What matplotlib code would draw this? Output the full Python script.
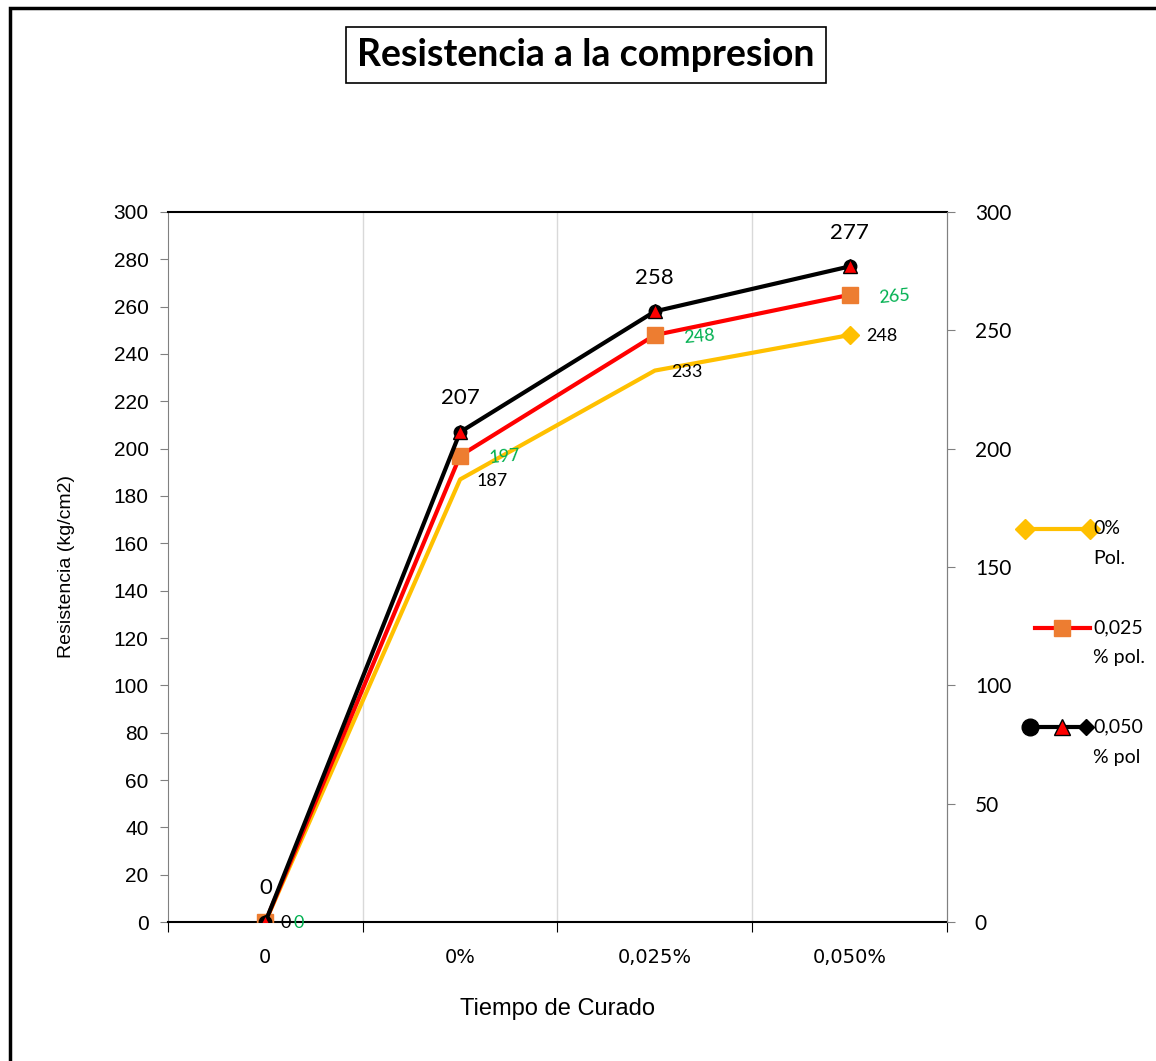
import numpy as np
import matplotlib.pyplot as plt
from matplotlib.patches import Rectangle
from matplotlib.lines import Line2D

# Datos
categorias = ["0", "0%", "0,025%", "0,050%"]
pol_0 = [0, 187, 233, 248]
pol_025 = [0, 197, 248, 265]
pol_050 = [0, 207, 258, 277]
nombres = [("0%", "Pol."), ("0,025", "% pol."), ("0,050", "% pol")]

fig = plt.figure(figsize=(11.56, 10.61), dpi=100)
ax = fig.add_axes([0.1453, 0.1310, 0.6739, 0.6692])
x = np.arange(len(categorias))

# Series
ax.plot(x, pol_0, color="#FFC000", lw=3, marker="D", ms=9, markevery=[3], zorder=3)
ax.plot(x, pol_025, color="#FF0000", lw=3, marker="s", ms=12,
        mfc="#ED7D31", mec="#ED7D31", zorder=4)
ax.plot(x, pol_050, color="black", lw=3, marker="o", ms=9, zorder=5)
ax.plot(x, pol_050, ls="none", marker="^", ms=10, mfc="red", mec="black", mew=1, zorder=6)

ax.set_xlim(-0.5, 3.5)
ax.set_ylim(0, 300)
ax.set_yticks(np.arange(0, 301, 20))
ax.set_xticks(np.arange(-0.5, 3.6, 1))
ax.set_xticklabels([])
ax.set_xticks(x, minor=True)
ax.set_xticklabels(categorias, minor=True, fontsize=14, family="DejaVu Sans")
ax.tick_params(axis="x", which="minor", length=0, pad=19)
ax.tick_params(axis="x", which="major", length=7, color="black", direction="out")
ax.tick_params(axis="y", length=6, color="gray", labelsize=15, pad=8)
for lab in ax.get_yticklabels():
    lab.set_family("Liberation Sans")
for xv in [0.5, 1.5, 2.5]:
    ax.axvline(xv, color="#D9D9D9", lw=1, zorder=0)

for s in ["left", "right"]:
    ax.spines[s].set_color("gray")
for s in ["top", "bottom"]:
    ax.spines[s].set_color("black")
    ax.spines[s].set_linewidth(1.5)

# Eje derecho
ax2 = ax.twinx()
ax2.set_ylim(0, 300)
ax2.set_yticks(np.arange(0, 301, 50))
ax2.tick_params(axis="y", length=6, color="gray", labelsize=15, pad=14)
for lab in ax2.get_yticklabels():
    lab.set_family("Lato")
ax2.spines["right"].set_color("gray")
ax2.spines["left"].set_visible(False)
ax2.spines["top"].set_visible(False)
ax2.spines["bottom"].set_visible(False)

# Etiquetas de datos
for i, v in enumerate(pol_050):
    ax.annotate(str(v), (x[i], v), xytext=(0, 17), textcoords="offset points",
                ha="center", va="bottom", fontsize=16, family="Lato", zorder=7)
for i, v in enumerate(pol_025):
    dx = 32 if i > 0 else 24
    ax.annotate(str(v), (x[i], v), xytext=(dx, -1), textcoords="offset points",
                ha="center", va="center", fontsize=13, family="Lato", color="#00B050",
                rotation=5 if i > 0 else 0, zorder=7)
for i, v in enumerate(pol_0):
    dx = 23 if i > 0 else 15
    ax.annotate(str(v), (x[i], v), xytext=(dx, -1), textcoords="offset points",
                ha="center", va="center", fontsize=13, family="Lato", zorder=7)

ax.set_ylabel("Resistencia (kg/cm2)", fontsize=14, family="Liberation Sans", labelpad=28)
ax.set_xlabel("Tiempo de Curado", fontsize=17, family="Liberation Sans", labelpad=22)

# Titulo con recuadro
fig.text(0.507, 0.948, "Resistencia a la compresion", ha="center", va="center",
         fontsize=27, family="Lato", fontweight="bold",
         bbox=dict(facecolor="white", edgecolor="black", lw=1.2, pad=8))

# Leyenda (manual)
W, H = 1156, 1061
ley_y = [529, 628, 727]
ley_x0 = [1025, 1035, 1030]
estilos = [
    dict(color="#FFC000", lw=3, marker="D", ms=10, markevery=[0, 1]),
    dict(color="#FF0000", lw=3, marker="s", ms=12, mfc="#ED7D31", mec="#ED7D31", markevery=[1]),
    dict(color="black", lw=3, marker="o", ms=12, markevery=[0]),
]
for k, (yy, x0) in enumerate(zip(ley_y, ley_x0)):
    yf = 1 - yy / H
    xs = [x0 / W, 1090 / W]
    if k == 1:
        xs = [x0 / W, 1062 / W, 1090 / W]
    fig.add_artist(Line2D(xs, [yf] * len(xs), transform=fig.transFigure, **estilos[k]))
    if k == 2:
        fig.add_artist(Line2D([1062 / W], [yf], transform=fig.transFigure, ls="none",
                              marker="^", ms=11, mfc="red", mec="black"))
        fig.add_artist(Line2D([1086 / W], [yf], transform=fig.transFigure, ls="none",
                              marker="D", ms=8, color="black"))
    fig.text(1093 / W, yf, nombres[k][0], ha="left", va="center", fontsize=14, family="Lato")
    fig.text(1093 / W, 1 - (yy + 30) / H, nombres[k][1], ha="left", va="center",
             fontsize=14, family="Lato")

# Marco de la figura
fig.patches.append(Rectangle((10 / 1156, -0.05), 1.1, 1.05 - 8 / 1061,
                             transform=fig.transFigure, fill=False,
                             edgecolor="black", lw=2.5))

fig.savefig("out.png", dpi=100)
